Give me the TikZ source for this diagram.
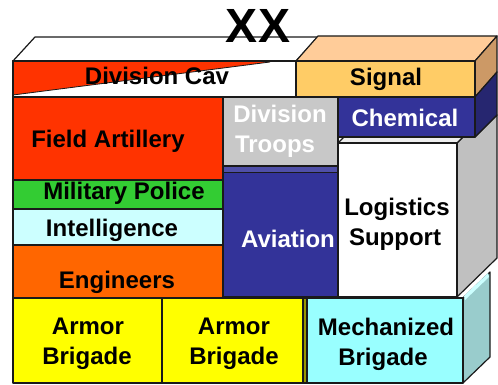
\documentclass[tikz,border=0pt]{standalone}
\usepackage{fontspec}
\setmainfont{Liberation Sans}
\definecolor{cred}{HTML}{FF3300}
\definecolor{corange}{HTML}{FF6600}
\definecolor{cgreen}{HTML}{33CC33}
\definecolor{cltcyan}{HTML}{CCFFFF}
\definecolor{cyellow}{HTML}{FFFF00}
\definecolor{colive}{HTML}{999900}
\definecolor{cmech}{HTML}{99FFFF}
\definecolor{cmechside}{HTML}{99CCCC}
\definecolor{cgray}{HTML}{C8C8C8}
\definecolor{cnavy}{HTML}{333399}
\definecolor{cnavyside}{HTML}{262670}
\definecolor{cnavyband}{HTML}{5050A8}
\definecolor{csigfront}{HTML}{FFCC66}
\definecolor{csigtop}{HTML}{FFCC99}
\definecolor{csigside}{HTML}{CC9966}
\definecolor{clogside}{HTML}{C0C0C0}
\definecolor{clogtop}{HTML}{EEEEEE}
\definecolor{cline}{HTML}{1A1A1A}
\begin{document}
\begin{tikzpicture}[x=1pt,y=-1pt,
  edge/.style={draw=cline, line width=1.2pt, line join=round},
  lbl/.style={font=\fontsize{24}{30}\selectfont\bfseries, inner sep=0pt, anchor=base},
  wlbl/.style={lbl, text=white}]
\useasboundingbox (0,0) rectangle (498,385);
% top faces
\filldraw[edge, fill=white] (13,61) -- (35,37) -- (318,37) -- (296,61) -- cycle;
\filldraw[edge, fill=csigtop] (296,61) -- (318,36) -- (497,36) -- (475,61) -- cycle;
% side faces
\filldraw[edge, fill=clogside] (457,143) -- (463,137) -- (475,137) -- (497,115) -- (497,258) -- (457,297) -- cycle;
\filldraw[edge, fill=csigside] (475,61) -- (497,36) -- (497,72) -- (475,97) -- cycle;
\filldraw[edge, fill=cnavyside] (475,97) -- (497,72) -- (497,115) -- (475,137) -- cycle;
\filldraw[edge, fill=cmechside] (463,298) -- (490,272) -- (490,357) -- (463,383) -- cycle;
\fill[cltcyan] (464,296) -- (488,273) -- (489,277) -- (465,300) -- cycle;
% logistics top face
\filldraw[edge, fill=clogtop] (338,143) -- (344,137) -- (463,137) -- (457,143) -- cycle;
% Division Cav band
\filldraw[edge, fill=white] (13,61) rectangle (296,97);
\fill[cred] (13,62) -- (13,95) -- (270,62) -- cycle;
\draw[cline, line width=0.8pt] (13,95) -- (270,62);
\draw[edge] (13,61) rectangle (296,97);
% fronts
\filldraw[edge, fill=csigfront] (296,61) rectangle (475,97);
\filldraw[edge, fill=cred] (13,97) rectangle (223,180);
\filldraw[edge, fill=cgray] (223,97) rectangle (338,166);
\filldraw[edge, fill=cnavy] (338,97) rectangle (475,137);
\filldraw[edge, fill=cnavy] (223,166) rectangle (338,297);
\fill[cnavyband] (224,167) rectangle (337,172);
\draw[cline, line width=0.8pt] (223,172) -- (338,172);
\filldraw[edge, fill=white] (338,143) rectangle (457,297);
\filldraw[edge, fill=cgreen] (13,180) rectangle (223,209);
\filldraw[edge, fill=cltcyan] (13,209) rectangle (223,245);
\filldraw[edge, fill=corange] (13,245) rectangle (223,298);
\filldraw[edge, fill=cyellow] (13,298) rectangle (162,383);
\filldraw[edge, fill=cyellow] (162,298) rectangle (303,383);
\filldraw[edge, fill=colive] (303,298) rectangle (307,383);
\filldraw[edge, fill=cmech] (307,298) rectangle (463,383);
% labels
\node[lbl, font=\fontsize{48}{50}\selectfont\bfseries] (xx) at (258,43) {XX};
\node[lbl] (cav) at (157,85) {Division Cav};
\node[lbl] (signal) at (386,86) {Signal};
\node[lbl] (fa) at (108,148) {Field Artillery};
\node[wlbl] (dt1) at (280,123) {Division};
\node[wlbl] (dt2) at (275,153) {Troops};
\node[wlbl] (chem) at (405,127) {Chemical};
\node[lbl] (mp) at (124,200) {Military Police};
\node[lbl] (intel) at (112,236) {Intelligence};
\node[lbl] (eng) at (117,288) {Engineers};
\node[wlbl] (avn) at (288,247) {Aviation};
\node[lbl] (log1) at (397,215) {Logistics};
\node[lbl] (log2) at (395,245) {Support};
\node[lbl] (ab1a) at (88,334) {Armor};
\node[lbl] (ab1b) at (87,364) {Brigade};
\node[lbl] (ab2a) at (234,334) {Armor};
\node[lbl] (ab2b) at (234,364) {Brigade};
\node[lbl] (mech1) at (386,335) {Mechanized};
\node[lbl] (mech2) at (383,365) {Brigade};
\end{tikzpicture}
\end{document}
